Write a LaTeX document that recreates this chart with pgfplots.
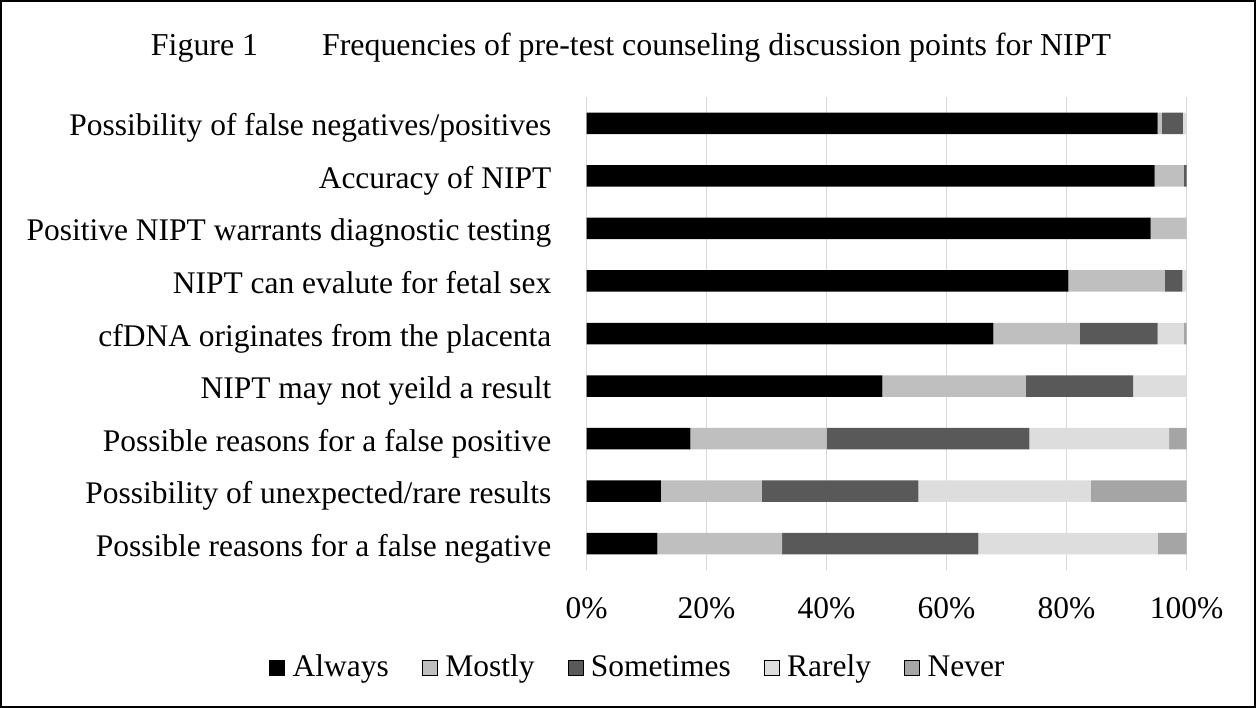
\documentclass[border=0pt]{standalone}
\usepackage{fontspec}
\setmainfont{Liberation Serif}
\usepackage{pgfplots}
\usepackage{pgfplotstable}
\pgfplotsset{compat=1.18}
\definecolor{cAlways}{HTML}{000000}
\definecolor{cMostly}{HTML}{BFBFBF}
\definecolor{cSome}{HTML}{595959}
\definecolor{cRare}{HTML}{DDDDDD}
\definecolor{cNever}{HTML}{A5A5A5}
\definecolor{gridc}{HTML}{D9D9D9}

\pgfplotstableread{
y always mostly sometimes rarely never
0 95.2 0.7 3.5 0.6 0
1 94.7 4.8 0.5 0 0
2 94.0 6.0 0 0 0
3 80.3 16.1 2.9 0.7 0
4 67.8 14.4 13.0 4.3 0.5
5 49.3 23.9 17.9 8.9 0
6 17.3 22.7 33.8 23.3 2.9
7 12.4 16.8 26.1 28.7 16.0
8 11.8 20.8 32.7 29.9 4.8
}\datatable

\begin{document}
\begin{tikzpicture}
\useasboundingbox (0bp,0bp) rectangle (1256bp,708bp);
\draw[line width=2bp] (1bp,1bp) rectangle (1255bp,707bp);
\node[font=\fontsize{32}{36}\selectfont, anchor=base, inner sep=0pt] at (631bp,652bp) {Figure 1\hspace{64bp}Frequencies of pre-test counseling discussion points for NIPT};
\begin{axis}[at={(586.5bp,138bp)}, anchor=south west, scale only axis,
  width=600bp, height=473bp,
  xbar stacked, bar width=21.5bp,
  xmin=0, xmax=100, ymin=-0.5, ymax=8.5, y dir=reverse,
  ytick={0,...,8},
  yticklabels={Possibility of false negatives/positives, Accuracy of NIPT, Positive NIPT warrants diagnostic testing, NIPT can evalute for fetal sex, cfDNA originates from the placenta, NIPT may not yeild a result, Possible reasons for a false positive, Possibility of unexpected/rare results, Possible reasons for a false negative},
  xtick={0,20,40,60,80,100},
  xticklabels={0\%,20\%,40\%,60\%,80\%,100\%},
  xmajorgrids, grid style={gridc, line width=1.5bp},
  axis line style={draw=none}, major tick length=0pt,
  tick label style={font=\fontsize{31.6}{36}\selectfont},
  yticklabel style={inner sep=0pt, xshift=-35bp, text height=30bp, text depth=5bp},
  xticklabel style={inner sep=0pt, yshift=-27bp},
  legend columns=5,
  legend style={at={(0.084,-0.2072)}, anchor=center, draw=none,
    font=\fontsize{31.6}{36}\selectfont,
    nodes={inner sep=0pt, text height=22bp, text depth=6bp},
    /tikz/every odd column/.append style={column sep=8bp},
    /tikz/every even column/.append style={column sep=33bp}},
  legend image code/.code={\draw[#1] (0bp,-7.5bp) rectangle (15bp,7.5bp);},
]
\addplot[fill=cAlways, draw=none] table[x=always, y=y] {\datatable};
\addplot[fill=cMostly, draw=none] table[x=mostly, y=y] {\datatable};
\addplot[fill=cSome, draw=none] table[x=sometimes, y=y] {\datatable};
\addplot[fill=cRare, draw=none] table[x=rarely, y=y] {\datatable};
\addplot[fill=cNever, draw=none] table[x=never, y=y] {\datatable};
\legend{Always, Mostly, Sometimes, Rarely, Never}
\end{axis}
\end{tikzpicture}
\end{document}
